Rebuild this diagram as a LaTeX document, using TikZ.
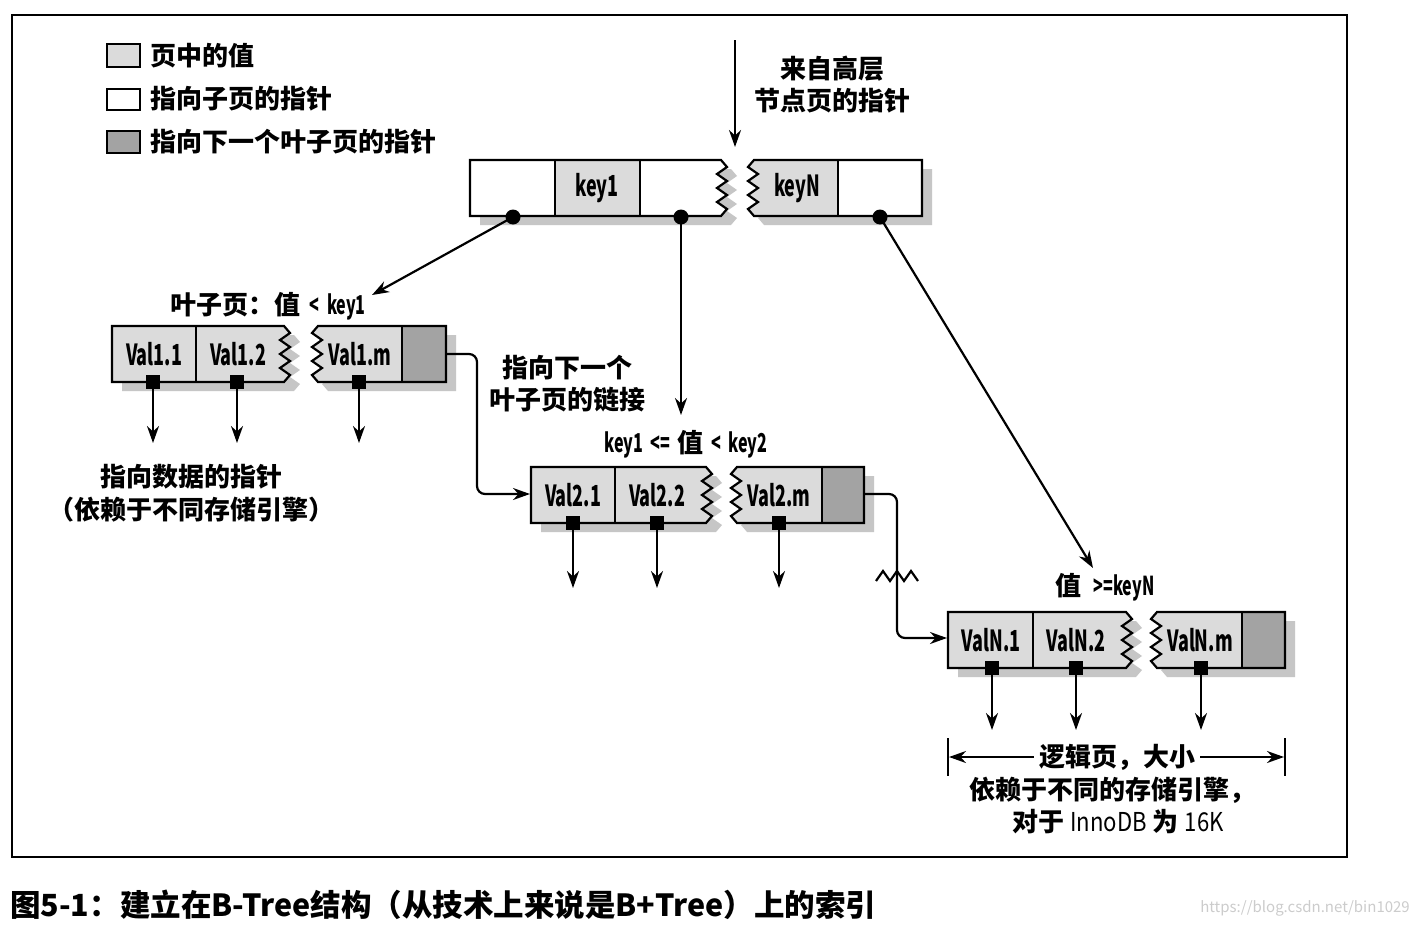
\documentclass[tikz,border=0pt]{standalone}
\usepackage{fontspec}
\usetikzlibrary{arrows.meta}
\newfontfamily\cjk{Noto Sans CJK SC}
\newfontfamily\cond{Noto Sans CJK SC}[FakeStretch=0.62]
\newfontfamily\semi{Noto Sans CJK SC}[FakeStretch=0.85]
\newcommand\partLft[5]{%
  \fill[shad,shift={(10,9)}] (#2,#3) -- (#4,#3) [zigdn] -- (#2,#5) -- cycle;
  \fill[#1] (#2,#3) -- (#4,#3) [zigdn] -- (#2,#5) -- cycle;}
\newcommand\partLfto[4]{%
  \draw[box] (#1,#2) -- (#3,#2) [zigdn] -- (#1,#4) -- cycle;}
\newcommand\partRgt[5]{%
  \fill[shad,shift={(10,9)}] (#2,#5) [zigup] -- (#4,#3) -- (#4,#5) -- cycle;
  \fill[#1] (#2,#5) [zigup] -- (#4,#3) -- (#4,#5) -- cycle;}
\newcommand\partRgto[4]{%
  \draw[box] (#1,#4) [zigup] -- (#3,#2) -- (#3,#4) -- cycle;}
\begin{document}
\begin{tikzpicture}[x=1pt,y=-1pt,
  arr/.style={-{Stealth[length=17pt,width=12pt]}, line width=2.2pt},
  ln/.style={line width=2.2pt},
  box/.style={draw=black, line width=2.2pt, line join=miter},
  valfill/.style={fill=gray!28},
  darkfill/.style={fill=gray!72},
  shad/.style={fill=gray!45},
  zigdn/.style={insert path={-- ++(6,7) -- ++(-10,7) -- ++(10,7) -- ++(-10,7) -- ++(10,7) -- ++(-10,7) -- ++(10,7) -- ++(-6,7)}},
  zigup/.style={insert path={-- ++(-6,-7) -- ++(10,-7) -- ++(-10,-7) -- ++(10,-7) -- ++(-10,-7) -- ++(10,-7) -- ++(-10,-7) -- ++(6,-7)}},
  lbl/.style={font=\cjk\fontsize{26}{32}\selectfont\bfseries, inner sep=2pt, align=center},
  cell/.style={font=\cond\fontsize{29}{30}\selectfont\bfseries, inner sep=0pt},
  dot/.style={circle, fill=black, minimum size=15pt, inner sep=0pt},
  sq/.style={rectangle, fill=black, minimum size=14pt, inner sep=0pt},
  every node/.style={text=black}]
\fill[white] (0,0) rectangle (1416,926);
\useasboundingbox (0,0) rectangle (1416,926);
% frame
\draw[line width=1.6pt] (12,15) rectangle (1347,857);

% legend
\draw[box, valfill] (107,44) rectangle (140,67);
\draw[box, fill=white] (107,89) rectangle (140,110);
\draw[box, darkfill] (107,131) rectangle (140,153);
\node[lbl, anchor=west] (lg1) at (148,56) {页中的值};
\node[lbl, anchor=west] (lg2) at (148,99) {指向子页的指针};
\node[lbl, anchor=west] (lg3) at (148,142) {指向下一个叶子页的指针};

% ---------- top node ----------
\partLft{white}{470}{160}{721}{216}
\fill[gray!28] (555,160) rectangle (640,216);
\partLfto{470}{160}{721}{216}
\draw[box] (555,160) -- (555,216) (640,160) -- (640,216);
\partRgt{gray!28}{754}{160}{922}{216}
\fill[white] (838,160) rectangle (922,216);
\partRgto{754}{160}{922}{216}
\draw[box] (838,160) -- (838,216);
\node[cell] (k1) at (597,188) {key1};
\node[cell] (kN) at (797,188) {keyN};
\node[dot] (d1) at (513,217) {};
\node[dot] (d2) at (681,217) {};
\node[dot] (d3) at (880,217) {};

\node[lbl] (from) at (832,85) {来自高层\\节点页的指针};
\coordinate (tin) at (735,40);
\coordinate (tinend) at (735,147);
\draw[arr] (tin) -- (tinend);

% ---------- leaf 1 ----------
\partLft{gray!28}{112}{326}{284}{382}
\partLfto{112}{326}{284}{382}
\draw[box] (196,326) -- (196,382);
\partRgt{gray!28}{318}{326}{446}{382}
\fill[gray!72] (402,326) rectangle (446,382);
\partRgto{318}{326}{446}{382}
\draw[box] (402,326) -- (402,382);
\node[cell] (v11) at (154,354) {Val1.1};
\node[cell] (v12) at (238,354) {Val1.2};
\node[cell] (v1m) at (360,354) {Val1.m};
\node[sq] (s11) at (153,382) {};
\node[sq] (s12) at (237,382) {};
\node[sq] (s1m) at (359,382) {};
\coordinate (e11) at (153,443);
\coordinate (e12) at (237,443);
\coordinate (e1m) at (359,443);
\draw[arr] (s11.center) -- (e11);
\draw[arr] (s12.center) -- (e12);
\draw[arr] (s1m.center) -- (e1m);
\node[lbl] (leaf1) at (268,306) {叶子页：值 {\cond\ <\ \ key1}};
\node[lbl] (dp1) at (191,477) {指向数据的指针};
\node[lbl] (dp2) at (191,510) {（依赖于不同存储引擎）};

% ---------- leaf 2 ----------
\partLft{gray!28}{531}{467}{706}{523}
\partLfto{531}{467}{706}{523}
\draw[box] (615,467) -- (615,523);
\partRgt{gray!28}{737}{467}{864}{523}
\fill[gray!72] (822,467) rectangle (864,523);
\partRgto{737}{467}{864}{523}
\draw[box] (822,467) -- (822,523);
\node[cell] (v21) at (573,495) {Val2.1};
\node[cell] (v22) at (657,495) {Val2.2};
\node[cell] (v2m) at (779,495) {Val2.m};
\node[sq] (s21) at (573,523) {};
\node[sq] (s22) at (657,523) {};
\node[sq] (s2m) at (779,523) {};
\coordinate (e21) at (573,588);
\coordinate (e22) at (657,588);
\coordinate (e2m) at (779,588);
\draw[arr] (s21.center) -- (e21);
\draw[arr] (s22.center) -- (e22);
\draw[arr] (s2m.center) -- (e2m);
\node[lbl] (leaf2) at (686,444) {{\cond key1\ \ <=\ \ }值{\cond\ \ <\ \ key2}};

% ---------- leaf N ----------
\partLft{gray!28}{948}{612}{1126}{668}
\partLfto{948}{612}{1126}{668}
\draw[box] (1033,612) -- (1033,668);
\partRgt{gray!28}{1157}{612}{1285}{668}
\fill[gray!72] (1242,612) rectangle (1285,668);
\partRgto{1157}{612}{1285}{668}
\draw[box] (1242,612) -- (1242,668);
\node[cell] (vN1) at (991,640) {ValN.1};
\node[cell] (vN2) at (1076,640) {ValN.2};
\node[cell] (vNm) at (1200,640) {ValN.m};
\node[sq] (sN1) at (992,668) {};
\node[sq] (sN2) at (1076,668) {};
\node[sq] (sNm) at (1201,668) {};
\coordinate (eN1) at (992,730);
\coordinate (eN2) at (1076,730);
\coordinate (eNm) at (1201,730);
\draw[arr] (sN1.center) -- (eN1);
\draw[arr] (sN2.center) -- (eN2);
\draw[arr] (sNm.center) -- (eNm);
\node[lbl] (leafN) at (1105,587) {值\ \ {\cond >=keyN}};

% ---------- arrows from top node ----------
\coordinate (t1) at (372,295);
\coordinate (t2) at (681,415);
\coordinate (t3) at (1093,568);
\draw[arr] (d1.center) -- (t1);
\draw[arr] (d2.center) -- (t2);
\draw[arr] (d3.center) -- (t3);

% ---------- leaf links ----------
\node[lbl] (link) at (567,384) {指向下一个\\叶子页的链接};
\coordinate (l1s) at (446,354);
\coordinate (l1m) at (477,424);
\coordinate (l1e) at (530,494);
\draw[arr, rounded corners=8pt] (l1s) -| (l1m) |- (l1e);
\coordinate (l2s) at (864,494);
\coordinate (l2m) at (897,560);
\coordinate (l2e) at (947,638);
\draw[arr, rounded corners=8pt] (l2s) -| (l2m) |- (l2e);
\draw[ln, line join=miter] (876,581) -- (883,571) -- (890,581) -- (897,571) -- (904,581) -- (911,571) -- (918,581);

% ---------- page size ----------
\draw[line width=1.8pt] (948,738) -- (948,776);
\draw[line width=1.8pt] (1285,738) -- (1285,776);
\coordinate (pl) at (949,757);
\coordinate (pr) at (1284,757);
\node[lbl, inner sep=5pt] (pg) at (1117,757) {逻辑页，大小};
\draw[arr] (pg.west) -- (pl);
\draw[arr] (pg.east) -- (pr);
\node[lbl] (pg2) at (1112,790) {依赖于不同的存储引擎，};
\node[lbl] (pg3) at (1118,822) {对于 {\semi\mdseries InnoDB} 为 {\semi\mdseries 16K}};

% ---------- caption ----------
\node[anchor=west, inner sep=0pt, font=\cjk\fontsize{30.5}{33}\selectfont\bfseries] (cap) at (10,905) {图5-1：建立在B-Tree结构（从技术上来说是B+Tree）上的索引};
\node[anchor=east, inner sep=0pt, text=gray!40, font=\cjk\fontsize{15}{17}\selectfont] (wm) at (1410,908) {https://blog.csdn.net/bin1029};
\end{tikzpicture}
\end{document}
